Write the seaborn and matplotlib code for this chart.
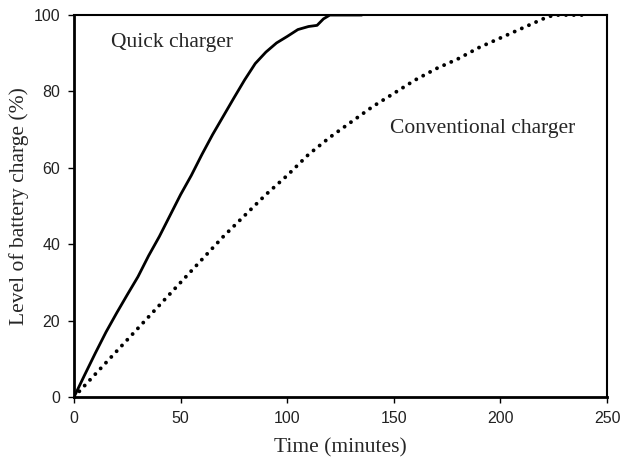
import numpy as np
import pandas as pd
import matplotlib
matplotlib.use('Agg')
import matplotlib.pyplot as plt
import seaborn as sns

sns.set_style('ticks')

# quick charger curve (minutes, % charge)
tempo_rapido = [0, 5, 10, 15, 20, 25, 30, 35, 40, 45, 50, 55, 60, 65, 70, 75,
                80, 85, 90, 95, 100, 105, 110, 114, 117, 120, 125, 130, 135]
carga_rapido = [0, 5.8, 11.5, 17, 22, 26.8, 31.5, 37, 42, 47.5, 53, 58, 63.5, 68.7, 73.5, 78.3,
                83, 87.3, 90.3, 92.7, 94.4, 96.2, 97, 97.3, 99, 100, 100, 100, 100]

# conventional charger curve
tempo_conv = [0, 10, 20, 30, 40, 50, 60, 70, 80, 90, 100, 110, 120, 130, 140,
              150, 160, 170, 180, 190, 200, 210, 220, 225, 230, 240]
carga_conv = [0, 6, 12, 18, 24, 30, 36, 42, 47.5, 53, 58, 63.5, 68, 72, 76,
              79.5, 83, 86, 88.5, 91.5, 94, 96.5, 99, 100, 100, 100]

xticks = [0, 50, 100, 150, 200, 250]
yticks = [0, 20, 40, 60, 80, 100]

serif = ['Liberation Serif', 'DejaVu Serif']
sans = ['Liberation Sans', 'DejaVu Sans']

df_rapido = pd.DataFrame({'t': tempo_rapido, 'c': carga_rapido})
df_conv = pd.DataFrame({'t': tempo_conv, 'c': carga_conv})

fig = plt.figure(figsize=(6.3, 4.63), dpi=100)
ax = fig.add_axes([0.1175, 0.1425, 0.846, 0.825])

sns.lineplot(data=df_rapido, x='t', y='c', ax=ax, color='black', linewidth=2.0)
sns.lineplot(data=df_conv, x='t', y='c', ax=ax, color='black', linewidth=2.8,
             linestyle=(0, (0.01, 2.0)), dash_capstyle='round')

ax.set_xlim(0, 250)
ax.set_ylim(0, 100)
ax.set_xticks(xticks)
ax.set_yticks(yticks)
ax.set_xticklabels([str(v) for v in xticks], family=sans, fontsize=11.5, color='#222222')
ax.set_yticklabels([str(v) for v in yticks], family=sans, fontsize=11.5, color='#222222')
ax.tick_params(direction='out', length=4, width=1, color='black', pad=6)

for lado in ['left', 'bottom']:
    ax.spines[lado].set_linewidth(2.0)
for lado in ['top', 'right']:
    ax.spines[lado].set_visible(True)
    ax.spines[lado].set_linewidth(1.5)
for s in ax.spines.values():
    s.set_color('black')

ax.set_xlabel('Time (minutes)', family=serif, fontsize=15.5, labelpad=9)
ax.set_ylabel('Level of battery charge (%)', family=serif, fontsize=15.5, labelpad=3)

ax.text(46, 92.7, 'Quick charger', family=serif, fontsize=15.5, ha='center', va='center')
ax.text(191.6, 70.4, 'Conventional charger', family=serif, fontsize=15.5, ha='center', va='center')

fig.savefig('out.png', dpi=100)
